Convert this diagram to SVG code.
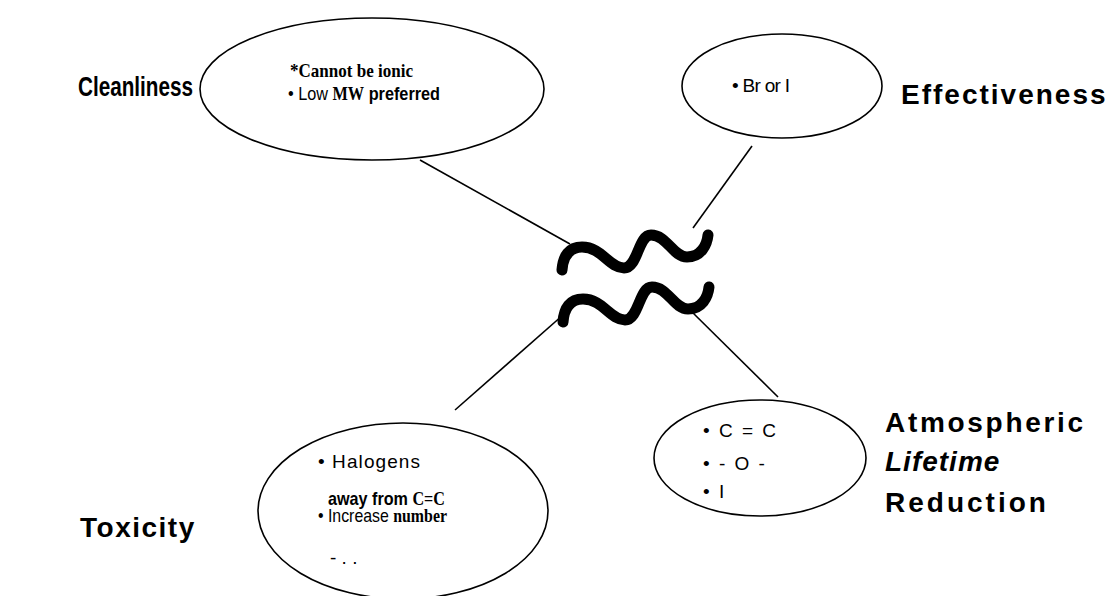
<svg xmlns="http://www.w3.org/2000/svg" width="1116" height="596" viewBox="0 0 1116 596">
  <style>
    .bubble { fill: none; stroke: #000; stroke-width: 1.6; }
    .link { stroke: #000; stroke-width: 1.6; fill: none; }
    .wave { stroke: #000; stroke-width: 11; fill: none; stroke-linecap: round; }
    .label { font-family: "Liberation Sans", Arial, sans-serif; font-weight: bold; font-size: 28px; fill: #000; }
    .item { font-family: "Liberation Sans", Arial, sans-serif; font-size: 19px; fill: #000; }
    .serif { font-family: "Liberation Serif", "Times New Roman", serif; font-weight: bold; }
    .bold { font-weight: bold; }
  </style>
  <rect width="1116" height="596" fill="#fff"/>

  <!-- connectors and the broken-link mark -->
  <g id="connectors">
    <line class="link" x1="420" y1="160" x2="570" y2="244"/>
    <line class="link" x1="752" y1="146" x2="693" y2="228"/>
    <line class="link" x1="455" y1="410" x2="563" y2="315"/>
    <line class="link" x1="690" y1="310" x2="778" y2="397"/>
    <path class="wave" d="M562,270 C563,256 569,247 582,247 C602,247 609,268 624,268 C638,268 638,235 651,235 C667,235 673,257 687,257 C701,257 707,245 708,235"/>
    <path class="wave" d="M563,322 C564,308 570,299 583,299 C603,299 610,320 625,320 C639,320 639,287 652,287 C668,287 674,309 688,309 C702,309 708,297 709,287"/>
  </g>

  <g id="cleanliness">
    <ellipse class="bubble" cx="372" cy="89" rx="172" ry="71"/>
    <text class="label" x="78" y="96" font-size="26" textLength="115" lengthAdjust="spacingAndGlyphs">Cleanliness</text>
    <text class="item serif" x="290" y="77" font-size="21" textLength="123" lengthAdjust="spacingAndGlyphs">*Cannot be ionic</text>
    <text class="item" x="288" y="100" font-size="20" textLength="152" lengthAdjust="spacingAndGlyphs">• Low <tspan class="serif">MW</tspan> <tspan class="bold">preferred</tspan></text>
  </g>

  <g id="effectiveness">
    <ellipse class="bubble" cx="782" cy="86" rx="100" ry="52"/>
    <text class="item" x="732" y="92" font-size="17" textLength="58">• Br or I</text>
    <text class="label" x="901" y="104" letter-spacing="2">Effectiveness</text>
  </g>

  <g id="toxicity">
    <ellipse class="bubble" cx="403" cy="511" rx="145" ry="88"/>
    <text class="label" x="80" y="537" letter-spacing="1.5">Toxicity</text>
    <text class="item" x="318" y="468" font-size="20" textLength="102">• Halogens</text>
    <text class="item" x="328" y="505" font-size="21" textLength="117" lengthAdjust="spacingAndGlyphs"><tspan class="bold">away from</tspan> <tspan class="serif" font-weight="normal">C=C</tspan></text>
    <text class="item" x="318" y="522" font-size="21" textLength="129" lengthAdjust="spacingAndGlyphs">• Increase <tspan class="serif">number</tspan></text>
    <text class="item" x="330" y="564">- . .</text>
  </g>

  <g id="lifetime">
    <ellipse class="bubble" cx="760" cy="458" rx="106" ry="58"/>
    <text class="item" x="703" y="437" font-size="20" letter-spacing="2">• C = C</text>
    <text class="item" x="703" y="470" font-size="20" letter-spacing="2">• - O -</text>
    <text class="item" x="703" y="498" font-size="20" letter-spacing="2">• I</text>
    <text class="label" x="885" y="432" font-size="29" letter-spacing="2.7">Atmospheric</text>
    <text class="label" x="885" y="471" font-size="29" font-style="italic" letter-spacing="1">Lifetime</text>
    <text class="label" x="885" y="512" font-size="29" letter-spacing="3">Reduction</text>
  </g>
</svg>
